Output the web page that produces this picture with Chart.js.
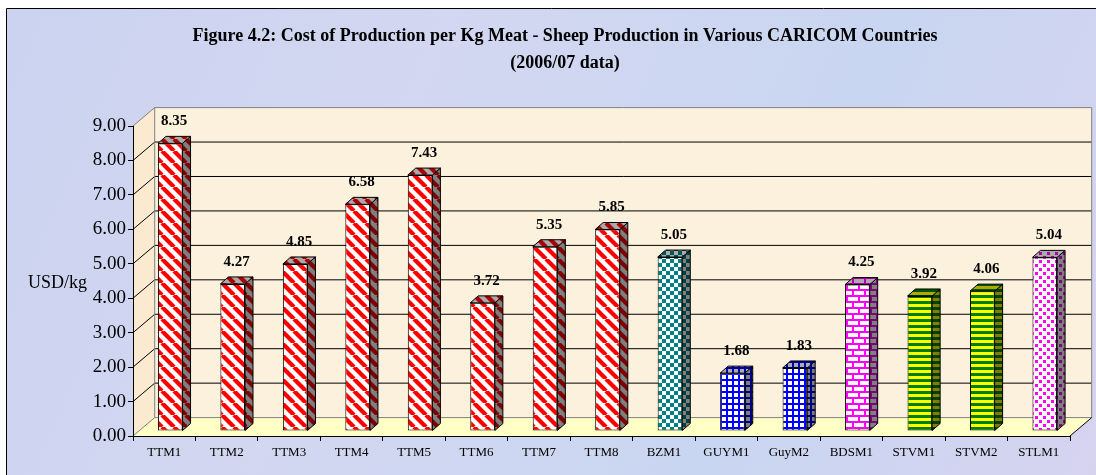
<!DOCTYPE html>
<html>
<head>
<meta charset="utf-8">
<script src="https://cdn.jsdelivr.net/npm/chart.js@4.4.0/dist/chart.umd.min.js"></script>
<style>
  html, body { margin: 0; padding: 0; background: #fff; }
  #chart { display: block; }
</style>
</head>
<body>
<canvas id="chart" width="1096" height="475"></canvas>
<script>
// values
const categories = ['TTM1', 'TTM2', 'TTM3', 'TTM4', 'TTM5', 'TTM6', 'TTM7', 'TTM8',
  'BZM1', 'GUYM1', 'GuyM2', 'BDSM1', 'STVM1', 'STVM2', 'STLM1'];
const costPerKg = [8.35, 4.27, 4.85, 6.58, 7.43, 3.72, 5.35, 5.85,
  5.05, 1.68, 1.83, 4.25, 3.92, 4.06, 5.04];
const countries = ['TT', 'TT', 'TT', 'TT', 'TT', 'TT', 'TT', 'TT',
  'BZ', 'GUY', 'GUY', 'BDS', 'STV', 'STV', 'STL'];
const yTicks = [0, 1, 2, 3, 4, 5, 6, 7, 8, 9];
const titleLines = [
  'Figure 4.2: Cost of Production per Kg Meat - Sheep Production in Various CARICOM Countries',
  '(2006/07 data)'
];
const yAxisTitle = 'USD/kg';

const SERIF = '"Liberation Serif", "Times New Roman", Times, serif';
const ctx = document.getElementById('chart').getContext('2d');

// 3d look
const WALL_DX = 21.7, WALL_DY = -18.4;   // depth of the wall box
const BAR_DX = 6, BAR_DY = -5;          // bars sit a bit back from the front edge
const SIDE_DX = 8, SIDE_DY = -7;        // bar thickness

function makePattern(w, h, paint) {
  const c = document.createElement('canvas');
  c.width = w; c.height = h;
  const g = c.getContext('2d');
  g.fillStyle = '#fff';
  g.fillRect(0, 0, w, h);
  paint(g);
  return ctx.createPattern(c, 'repeat');
}

const fills = {
  TT: makePattern(12, 12, g => {
    g.strokeStyle = '#ff0000';
    g.lineWidth = 4.2;
    for (const o of [-12, 0, 12]) {
      g.beginPath(); g.moveTo(o, 0); g.lineTo(o + 12, 12); g.stroke();
    }
  }),
  BZ: makePattern(8, 8, g => {
    g.fillStyle = '#008080';
    g.fillRect(0, 0, 4, 4);
    g.fillRect(4, 4, 4, 4);
  }),
  GUY: makePattern(6, 6, g => {
    g.fillStyle = '#0000ff';
    g.fillRect(0, 0, 6, 2);
    g.fillRect(0, 0, 2, 6);
  }),
  BDS: makePattern(12, 12, g => {
    g.fillStyle = '#ff00ff';
    g.fillRect(0, 0, 12, 2);
    g.fillRect(0, 6, 12, 2);
    g.fillRect(0, 0, 2, 6);
    g.fillRect(6, 6, 2, 6);
  }),
  STV: makePattern(6, 6, g => {
    g.fillStyle = '#008000';
    g.fillRect(0, 0, 6, 3);
    g.fillStyle = '#ffff00';
    g.fillRect(0, 3, 6, 3);
  }),
  STL: makePattern(8, 8, g => {
    g.fillStyle = '#ff00ff';
    g.fillRect(1, 1, 3, 3);
    g.fillRect(5, 5, 3, 3);
  })
};

function poly(c, pts) {
  c.beginPath();
  c.moveTo(pts[0][0], pts[0][1]);
  for (let i = 1; i < pts.length; i++) c.lineTo(pts[i][0], pts[i][1]);
  c.closePath();
}

function line(c, x1, y1, x2, y2, color) {
  c.strokeStyle = color;
  c.lineWidth = 1;
  c.beginPath(); c.moveTo(x1, y1); c.lineTo(x2, y2); c.stroke();
}

// background, walls, floor and back gridlines
const wallsPlugin = {
  id: 'walls',
  beforeDraw(chart) {
    const c = chart.ctx;
    const { left, right, top, bottom } = chart.chartArea;
    const y = chart.scales.y;
    const W = chart.width, H = chart.height;
    c.save();
    c.fillStyle = '#fff';
    c.fillRect(0, 0, W, H);
    const bg = c.createLinearGradient(0, 0, W, H);
    bg.addColorStop(0, '#cbd3f0');
    bg.addColorStop(0.35, '#d3d7f1');
    bg.addColorStop(0.7, '#c9d6f1');
    bg.addColorStop(1, '#d6d3ef');
    c.fillStyle = bg;
    c.fillRect(7, 9, W, H);
    line(c, 6.5, 8.5, W, 8.5, '#000');
    line(c, 6.5, 8.5, 6.5, H, '#000');

    const yTop = y.getPixelForValue(yTicks[yTicks.length - 1]);
    const yBot = y.getPixelForValue(yTicks[0]);
    // back wall
    c.fillStyle = '#fcf1dc';
    poly(c, [[left + WALL_DX, yTop + WALL_DY], [right + WALL_DX, yTop + WALL_DY],
      [right + WALL_DX, yBot + WALL_DY], [left + WALL_DX, yBot + WALL_DY]]);
    c.fill();
    // side wall
    c.fillStyle = '#fbe9d0';
    poly(c, [[left, yTop], [left + WALL_DX, yTop + WALL_DY],
      [left + WALL_DX, yBot + WALL_DY], [left, yBot]]);
    c.fill();
    // floor
    c.fillStyle = '#ffffc6';
    poly(c, [[left, yBot], [right, yBot], [right + WALL_DX, yBot + WALL_DY], [left + WALL_DX, yBot + WALL_DY]]);
    c.fill();

    // gridlines on side and back walls
    yTicks.forEach((v, i) => {
      const py = y.getPixelForValue(v);
      const edge = i === 0 || i === yTicks.length - 1;
      const col = edge ? '#808080' : '#000';
      line(c, left, py, left + WALL_DX, py + WALL_DY, col);
      line(c, left + WALL_DX, py + WALL_DY, right + WALL_DX, py + WALL_DY, col);
    });
    line(c, left + WALL_DX, yTop + WALL_DY, left + WALL_DX, yBot + WALL_DY, '#808080');
    line(c, right + WALL_DX, yTop + WALL_DY, right + WALL_DX, yBot + WALL_DY, '#808080');
    line(c, right, yBot, right + WALL_DX, yBot + WALL_DY, '#000');

    // axis title, drawn level like the original
    c.fillStyle = '#000';
    c.font = '18px ' + SERIF;
    c.textAlign = 'right';
    c.textBaseline = 'middle';
    c.fillText(yAxisTitle, left - 46, (top + bottom) / 2 + 2);
    c.restore();
  }
};

// push bars back into the box and give them sides, tops and value labels
const barsPlugin = {
  id: 'bars3d',
  beforeDatasetsDraw(chart) {
    chart.ctx.save();
    chart.ctx.translate(BAR_DX, BAR_DY);
  },
  afterDatasetsDraw(chart) {
    const c = chart.ctx;
    const meta = chart.getDatasetMeta(0);
    meta.data.forEach((bar, i) => {
      const { x, y, base, width } = bar.getProps(['x', 'y', 'base', 'width'], true);
      const l = x - width / 2, r = x + width / 2;
      const fill = fills[countries[i]];
      // side
      poly(c, [[r, y], [r + SIDE_DX, y + SIDE_DY], [r + SIDE_DX, base + SIDE_DY], [r, base]]);
      c.fillStyle = fill; c.fill();
      c.fillStyle = 'rgba(0,0,0,0.5)'; c.fill();
      c.strokeStyle = '#000'; c.lineWidth = 1; c.stroke();
      // top
      poly(c, [[l, y], [l + SIDE_DX, y + SIDE_DY], [r + SIDE_DX, y + SIDE_DY], [r, y]]);
      c.fillStyle = fill; c.fill();
      c.fillStyle = 'rgba(0,0,0,0.33)'; c.fill();
      c.stroke();
      // value
      c.fillStyle = '#000';
      c.font = 'bold 15px ' + SERIF;
      c.textAlign = 'center';
      c.textBaseline = 'middle';
      c.fillText(costPerKg[i].toFixed(2), x + SIDE_DX / 2, y - 22);
    });
    c.restore();
  }
};

new Chart(ctx, {
  type: 'bar',
  data: {
    labels: categories,
    datasets: [{
      data: costPerKg,
      backgroundColor: countries.map(k => fills[k]),
      borderColor: '#000',
      borderWidth: 1,
      borderSkipped: false,
      barPercentage: 0.394,
      categoryPercentage: 1
    }]
  },
  options: {
    responsive: false,
    animation: false,
    layout: { padding: { left: 60, right: 26, top: 9, bottom: 0 } },
    plugins: {
      legend: { display: false },
      tooltip: { enabled: false },
      title: {
        display: true,
        text: titleLines,
        color: '#000',
        font: { family: SERIF, size: 18, weight: 'bold', lineHeight: 1.5 },
        padding: { top: 13.5, bottom: 49.5 }
      }
    },
    scales: {
      x: {
        grid: { drawOnChartArea: false, drawTicks: true, tickLength: 5, color: '#000', offset: true },
        border: { color: '#000' },
        ticks: { color: '#000', font: { family: SERIF, size: 13 }, padding: 4, maxRotation: 0, autoSkip: false },
        afterFit: s => { s.height = 39; }
      },
      y: {
        min: yTicks[0],
        max: yTicks[yTicks.length - 1],
        afterBuildTicks: s => { s.ticks = yTicks.map(v => ({ value: v })); },
        ticks: { color: '#000', font: { family: SERIF, size: 19 }, padding: 2, callback: v => v.toFixed(2) },
        grid: { drawOnChartArea: false, drawTicks: true, tickLength: 5, color: '#000' },
        border: { color: '#000' },
        afterFit: s => { s.width = 73; }
      }
    }
  },
  plugins: [wallsPlugin, barsPlugin]
});
</script>
</body>
</html>
